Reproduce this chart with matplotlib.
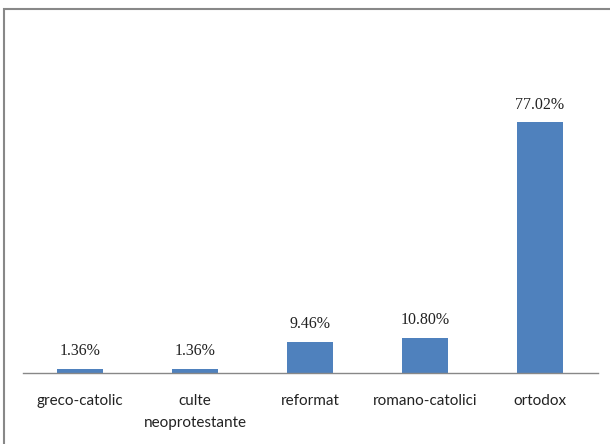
import matplotlib
matplotlib.use("Agg")
import matplotlib.pyplot as plt
from matplotlib.patches import Rectangle

# Religious affiliation, share of population (%)
categories = ["greco-catolic", "culte\nneoprotestante", "reformat", "romano-catolici", "ortodox"]
shares = [1.36, 1.36, 9.46, 10.80, 77.02]
share_labels = ["1.36%", "1.36%", "9.46%", "10.80%", "77.02%"]

bar_color = "#4f81bd"

fig = plt.figure(figsize=(6.1, 4.44), dpi=100)
ax = fig.add_axes([22.5 / 610, 1 - 373 / 444, 575 / 610, 293 / 444])

x = range(len(categories))
bars = ax.bar(x, shares, width=0.4, color=bar_color)

for b, lab in zip(bars, share_labels):
    ax.annotate(lab, (b.get_x() + b.get_width() / 2, b.get_height()),
                xytext=(0, 7), textcoords="offset points",
                ha="center", va="bottom", fontsize=11.5,
                family="Liberation Serif", color="#222222")

ax.set_xlim(-0.5, len(categories) - 0.5)
ax.set_ylim(0, 90)
ax.set_xticks(list(x))
ax.set_xticklabels(categories, family="Lato", fontsize=11, color="#222222",
                   linespacing=1.75)
ax.tick_params(axis="x", length=0, pad=15)
ax.set_yticks([])
for side in ["left", "right", "top"]:
    ax.spines[side].set_visible(False)
ax.spines["bottom"].set_color("#888888")
ax.spines["bottom"].set_linewidth(1.0)

# outer chart frame
fig.patches.append(Rectangle((4 / 610, -0.1), 1.0, 1 - 9 / 444 + 0.1,
                             transform=fig.transFigure, fill=False,
                             edgecolor="#888888", linewidth=1.5))

fig.savefig("out.png", dpi=100)
